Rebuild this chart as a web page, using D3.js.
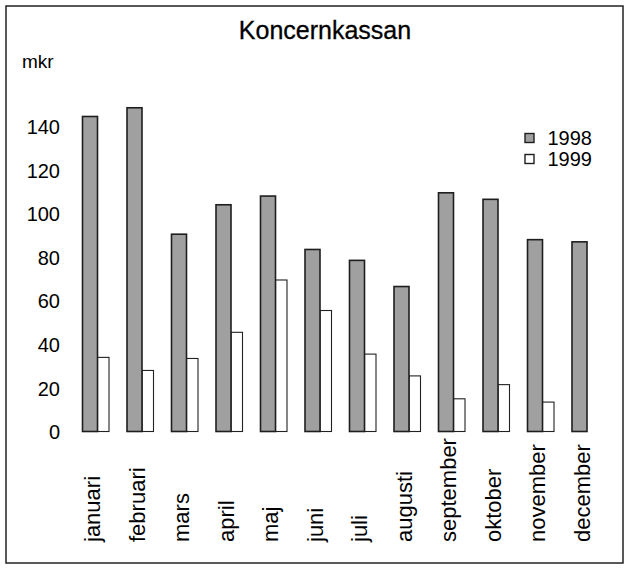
<!DOCTYPE html>
<html lang="sv">
<head>
  <meta charset="UTF-8">
  <title>Koncernkassan</title>
  <script src="https://d3js.org/d3.v7.min.js"></script>
  <style>
    body { margin: 0; background: #fff; }
    text { font-family: "Liberation Sans", Arial, Helvetica, sans-serif; fill: #000; }
  </style>
</head>
<body>
  <svg width="627" height="570"></svg>
  <script>
    const months = ["januari", "februari", "mars", "april", "maj", "juni",
                    "juli", "augusti", "september", "oktober", "november", "december"];
    const values1998 = [144.5, 148.5, 90.5, 104, 108, 83.5, 78.5, 66.5, 109.5, 106.5, 88, 87];
    const values1999 = [34, 28, 33.5, 45.5, 69.5, 55.5, 35.5, 25.5, 15, 21.5, 13.5, null];
    const yTicks = [0, 20, 40, 60, 80, 100, 120, 140];
    const seriesNames = ["1998", "1999"];

    const svg = d3.select("svg");

    // frame
    svg.append("rect")
      .attr("x", 6).attr("y", 6)
      .attr("width", 617).attr("height", 557)
      .attr("fill", "none")
      .attr("stroke", "#222")
      .attr("stroke-width", 1.5);

    const x = d3.scaleBand()
      .domain(months)
      .range([75.25, 609.25]);

    const y = d3.scaleLinear()
      .domain([0, 140])
      .range([431.5, 126.3]);

    const center = m => x(m) + x.bandwidth() / 2;

    // title + unit
    svg.append("text")
      .attr("x", 325).attr("y", 39)
      .attr("text-anchor", "middle")
      .attr("font-size", 25)
      .attr("stroke", "#000").attr("stroke-width", 0.3)
      .text("Koncernkassan");

    svg.append("text")
      .attr("x", 22).attr("y", 68)
      .attr("font-size", 19)
      .text("mkr");

    // y axis (labels only)
    const yAxis = d3.axisLeft(y).tickValues(yTicks).tickSize(0).tickPadding(0);
    const gy = svg.append("g")
      .attr("transform", "translate(60,0)")
      .call(yAxis);
    gy.select(".domain").remove();
    gy.selectAll("text")
      .attr("font-size", 20)
      .attr("dy", "0.36em")
      .style("font-family", "'Liberation Sans', Arial, sans-serif")
      .attr("fill", "#000");

    // 1999 bars (behind)
    svg.selectAll(".b1999")
      .data(months.map((m, i) => ({ m, v: values1999[i] })).filter(d => d.v != null))
      .enter()
      .append("rect")
      .attr("class", "b1999")
      .attr("x", d => center(d.m))
      .attr("width", 11.5)
      .attr("y", d => y(d.v))
      .attr("height", d => y(0) - y(d.v))
      .attr("fill", "#fff")
      .attr("stroke", "#222")
      .attr("stroke-width", 1.1);

    // 1998 bars
    svg.selectAll(".b1998")
      .data(months.map((m, i) => ({ m, v: values1998[i] })))
      .enter()
      .append("rect")
      .attr("class", "b1998")
      .attr("x", d => center(d.m) - 15)
      .attr("width", 15)
      .attr("y", d => y(d.v))
      .attr("height", d => y(0) - y(d.v))
      .attr("fill", "#a0a0a0")
      .attr("stroke", "#1e1e1e")
      .attr("stroke-width", 1.6);

    // month labels, rotated
    svg.selectAll(".mlabel")
      .data(months)
      .enter()
      .append("text")
      .attr("class", "mlabel")
      .attr("transform", d => `translate(${center(d) - 5},542) rotate(-90)`)
      .attr("dy", "0.35em")
      .attr("font-size", 22)
      .text(d => d);

    // legend
    const legend = svg.append("g").attr("transform", "translate(525,138)");
    const legendFill = ["#a0a0a0", "#fff"];
    legend.selectAll("rect")
      .data(seriesNames)
      .enter()
      .append("rect")
      .attr("x", 0)
      .attr("y", (d, i) => i * 21 - 4.5)
      .attr("width", 9)
      .attr("height", 9)
      .attr("fill", (d, i) => legendFill[i])
      .attr("stroke", "#1e1e1e")
      .attr("stroke-width", 1.4);
    legend.selectAll("text")
      .data(seriesNames)
      .enter()
      .append("text")
      .attr("x", 67)
      .attr("y", (d, i) => i * 21)
      .attr("dy", "0.36em")
      .attr("text-anchor", "end")
      .attr("font-size", 20)
      .text(d => d);
  </script>
</body>
</html>
